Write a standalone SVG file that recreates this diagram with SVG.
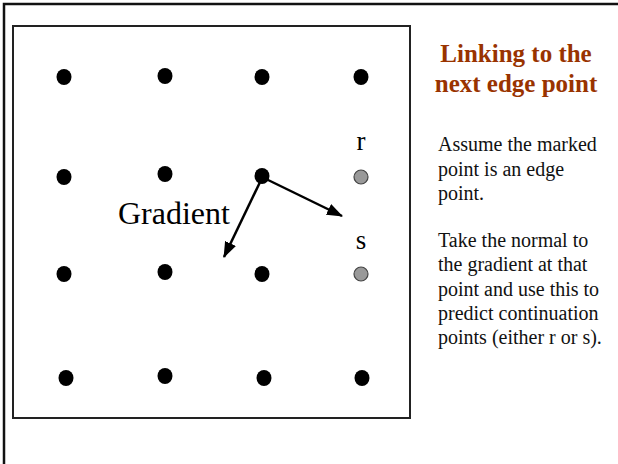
<svg xmlns="http://www.w3.org/2000/svg" width="618" height="464" viewBox="0 0 618 464">
<style>
.dot{fill:#000}
.gdot{fill:#999;stroke:#444;stroke-width:1.2}
.lbl{font-family:"Liberation Serif",serif;fill:#000}
.title{font-family:"Liberation Serif",serif;font-weight:bold;font-size:25px;fill:#993300;text-anchor:middle}
.body{font-family:"Liberation Serif",serif;font-size:20px;fill:#111}
.arr{stroke:#000;stroke-width:2.5;fill:none}
</style>
<defs>
<marker id="ah" viewBox="0 0 16 12" refX="15" refY="6" markerWidth="16" markerHeight="12" markerUnits="userSpaceOnUse" orient="auto">
<path d="M0,0 L16,6 L0,12 Z" fill="#000"/>
</marker>
</defs>
<rect width="618" height="464" fill="#fff"/>
<path d="M4,470 V4 H620" fill="none" stroke="#111" stroke-width="2.5"/>
<rect x="13" y="26" width="397" height="392" fill="#fff" stroke="#222" stroke-width="2"/>
<g id="grid">
<g id="p11"><ellipse class="dot" cx="64" cy="77" rx="7.5" ry="8"/></g>
<g id="p12"><ellipse class="dot" cx="165" cy="76" rx="7.5" ry="8"/></g>
<g id="p13"><ellipse class="dot" cx="262" cy="77" rx="7.5" ry="8"/></g>
<g id="p14"><ellipse class="dot" cx="361" cy="77" rx="7.5" ry="8"/></g>
<g id="p21"><ellipse class="dot" cx="64" cy="177" rx="7.5" ry="8"/></g>
<g id="p22"><ellipse class="dot" cx="165" cy="174" rx="7.5" ry="8"/></g>
<g id="p23"><ellipse class="dot" cx="262" cy="176" rx="7.5" ry="8"/></g>
<g id="r"><circle class="gdot" cx="361" cy="177" r="7"/><text class="lbl" x="361" y="150" font-size="27" text-anchor="middle">r</text></g>
<g id="p31"><ellipse class="dot" cx="64" cy="274" rx="7.5" ry="8"/></g>
<g id="p32"><ellipse class="dot" cx="165" cy="272" rx="7.5" ry="8"/></g>
<g id="p33"><ellipse class="dot" cx="262" cy="274" rx="7.5" ry="8"/></g>
<g id="s"><circle class="gdot" cx="361" cy="274" r="7"/><text class="lbl" x="361" y="249" font-size="27" text-anchor="middle">s</text></g>
<g id="p41"><ellipse class="dot" cx="66" cy="378" rx="7.5" ry="8"/></g>
<g id="p42"><ellipse class="dot" cx="165" cy="376" rx="7.5" ry="8"/></g>
<g id="p43"><ellipse class="dot" cx="264" cy="378" rx="7.5" ry="8"/></g>
<g id="p44"><ellipse class="dot" cx="362" cy="378" rx="7.5" ry="8"/></g>
</g>
<g id="gradient-label"><text class="lbl" x="118" y="224" font-size="32">Gradient</text></g>
<g id="connectors">
<line class="arr" x1="262" y1="178" x2="224" y2="257" marker-end="url(#ah)"/>
<line class="arr" x1="264" y1="178" x2="342" y2="216" marker-end="url(#ah)"/>
</g>
<g id="title">
<text class="title" x="516" y="62">Linking to the</text>
<text class="title" x="516" y="92">next edge point</text>
</g>
<g id="body">
<text class="body" x="438" y="151">Assume the marked</text>
<text class="body" x="438" y="176">point is an edge</text>
<text class="body" x="438" y="200">point.</text>
<text class="body" x="438" y="247">Take the normal to</text>
<text class="body" x="438" y="271">the gradient at that</text>
<text class="body" x="438" y="296">point and use this to</text>
<text class="body" x="438" y="320">predict continuation</text>
<text class="body" x="438" y="344">points (either r or s).</text>
</g>
</svg>
